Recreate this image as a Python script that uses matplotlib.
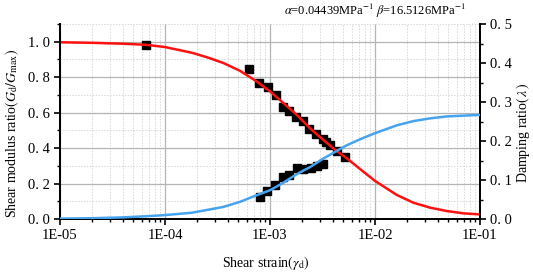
import numpy as np
import matplotlib
matplotlib.use("Agg")
import matplotlib.pyplot as plt
from matplotlib.ticker import FixedLocator, NullFormatter

plt.rcParams['font.family'] = ['Liberation Serif', 'DejaVu Serif']
plt.rcParams['mathtext.fontset'] = 'stix'

# ---- data ----
g_strain = [6.55e-5, 6.35e-4, 7.91e-4, 9.5e-4, 1.13e-3, 1.34e-3, 1.53e-3, 1.77e-3,
            2.05e-3, 2.37e-3, 2.74e-3, 3.18e-3, 3.45e-3, 3.73e-3, 4.38e-3, 5.21e-3]
g_ratio = [0.983, 0.846, 0.767, 0.747, 0.700, 0.631, 0.612, 0.578,
           0.550, 0.508, 0.480, 0.450, 0.435, 0.418, 0.386, 0.352]

d_strain = [8.03e-4, 9.44e-4, 1.12e-3, 1.34e-3, 1.53e-3, 1.80e-3, 2.08e-3, 2.44e-3, 2.82e-3, 3.22e-3]
d_ratio = [0.057, 0.072, 0.087, 0.108, 0.112, 0.132, 0.129, 0.132, 0.135, 0.140]

# fitted curves
curve_dec = [0.0, 0.302, 0.587, 0.816, 1.0, 1.254, 1.397, 1.556, 1.714, 1.873, 2.003,
             2.127, 2.254, 2.381, 2.508, 2.619, 2.73, 2.889, 3.0, 3.206, 3.365,
             3.524, 3.683, 3.841, 4.0]
g_curve = [0.997, 0.994, 0.989, 0.983, 0.970, 0.938, 0.913, 0.880, 0.836, 0.776, 0.719,
           0.654, 0.588, 0.512, 0.446, 0.391, 0.343, 0.267, 0.215, 0.136, 0.092,
           0.064, 0.045, 0.032, 0.026]
d_curve = [0.001, 0.002, 0.004, 0.007, 0.010, 0.016, 0.023, 0.031, 0.044, 0.061, 0.074,
           0.093, 0.115, 0.133, 0.155, 0.172, 0.189, 0.208, 0.220, 0.240, 0.251,
           0.258, 0.263, 0.265, 0.267]

x_ticks = [1e-5, 1e-4, 1e-3, 1e-2, 1e-1]
x_labels = ['1E-05', '1E-04', '1E-03', '1E-02', '1E-01']
yl_ticks = [0.0, 0.2, 0.4, 0.6, 0.8, 1.0]
yl_labels = ['0. 0', '0. 2', '0. 4', '0. 6', '0. 8', '1. 0']
yr_ticks = [0.0, 0.1, 0.2, 0.3, 0.4, 0.5]
yr_labels = ['0. 0', '0. 1', '0. 2', '0. 3', '0. 4', '0. 5']

curve_strain = [10 ** (-5 + d) for d in curve_dec]

RED = '#ff1010'
BLUE = '#46a3ee'

fig = plt.figure(figsize=(5.33, 2.75), dpi=100)
ax = fig.add_axes([60 / 533, 56 / 275, 420 / 533, 195 / 275])
ax2 = ax.twinx()

ax.set_xscale('log')
ax.set_xlim(1e-5, 1e-1)
ax.set_ylim(0, 1.1)
ax2.set_ylim(0, 0.5)

# grid
ax.grid(True, which='major', color='#b4b4b4', lw=0.9, ls='-')
ax.grid(True, which='minor', color='#d8d8d8', lw=0.7, ls=(0, (1.5, 1.5)))
ax.set_axisbelow(True)

ax.plot(g_strain, g_ratio, 's', color='black', ms=5.5, zorder=3)
ax.plot(curve_strain, g_curve, '-', color=RED, lw=1.8, zorder=4)
ax2.plot(d_strain, d_ratio, 's', color='black', ms=5.5, zorder=3)
ax2.plot(curve_strain, d_curve, '-', color=BLUE, lw=1.8, zorder=4)

ax.set_xticks(x_ticks)
ax.set_xticklabels(x_labels)
ax.xaxis.set_minor_locator(FixedLocator([m * 10.0 ** e for e in range(-5, -1) for m in range(2, 10)]))
ax.xaxis.set_minor_formatter(NullFormatter())
ax.set_yticks(yl_ticks)
ax.set_yticklabels(yl_labels)
ax.yaxis.set_minor_locator(FixedLocator([0.1, 0.3, 0.5, 0.7, 0.9, 1.1]))
ax2.set_yticks(yr_ticks)
ax2.set_yticklabels(yr_labels)
ax2.yaxis.set_minor_locator(FixedLocator([0.05, 0.15, 0.25, 0.35, 0.45]))

for a in (ax, ax2):
    a.tick_params(which='major', direction='out', length=4, width=1.2, labelsize=10.5, pad=3)
    a.tick_params(which='minor', direction='out', length=2.5, width=1.0)
    for s in ('left', 'right', 'bottom'):
        a.spines[s].set_linewidth(1.3)
    a.spines['top'].set_visible(False)

fig.text(12 / 533, 1 - 133 / 275,
         r'Shear modulus ratio$\left(G_{\rm d}/G_{\rm max}\right)$',
         rotation=90, ha='center', va='center', fontsize=10)
fig.text(523 / 533, 1 - 133 / 275, r'Damping ratio$\left(\,\lambda\,\right)$',
         rotation=90, ha='center', va='center', fontsize=10)
fig.text(266 / 533, 1 - 263 / 275, r'Shear strain$\left(\gamma_{\rm d}\right)$',
         ha='center', va='center', fontsize=10)
fig.text(466 / 533, 1 - 11 / 275,
         r'$\alpha$=0.04439MPa$^{-1}$ $\beta$=16.5126MPa$^{-1}$',
         ha='right', va='center', fontsize=9)

fig.savefig('out.png', dpi=100)
